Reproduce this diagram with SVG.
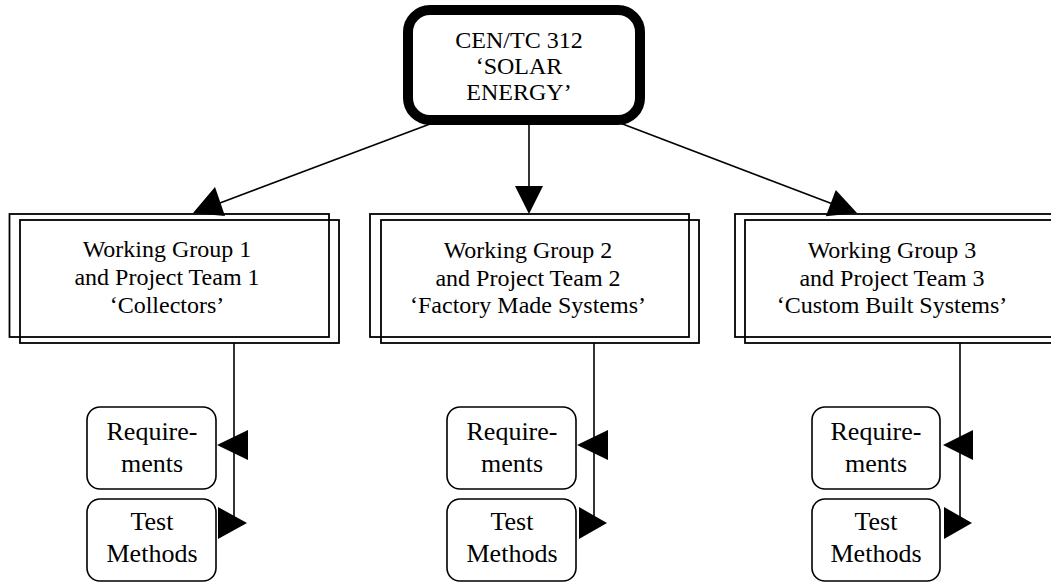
<svg xmlns="http://www.w3.org/2000/svg" width="1051" height="583" viewBox="0 0 1051 583">
<style>
text{font-family:"Liberation Serif","Times New Roman","DejaVu Serif",serif;fill:#000;text-anchor:middle}
.wg{font-size:24px}
.sub{font-size:26px}
.top{font-size:24px}
.box{fill:none;stroke:#000;stroke-width:1.8}
.sb{fill:#fff;stroke:#000;stroke-width:1.6}
.ln{stroke:#000;stroke-width:1.6;fill:none}
.ah{fill:#000;stroke:none}
</style>
<rect width="1051" height="583" fill="#fff"/>
<g id="connectors">
<line class="ln" x1="430" y1="124" x2="212" y2="206"/>
<polygon class="ah" points="193,213 215,187 225,216"/>
<line class="ln" x1="529" y1="125" x2="529" y2="190"/>
<polygon class="ah" points="529,214 515,186 543,186"/>
<line class="ln" x1="620" y1="123" x2="838" y2="206"/>
<polygon class="ah" points="857,213 835.8,190 825.8,216.2"/>
<line class="ln" x1="234" y1="343" x2="234" y2="523"/>
<polygon class="ah" points="217,445 248,430 248,460"/>
<polygon class="ah" points="218,507 247,523 218,539"/>
<line class="ln" x1="594" y1="343" x2="594" y2="523"/>
<polygon class="ah" points="577,445 608,430 608,460"/>
<polygon class="ah" points="579,507 607,523 579,539"/>
<line class="ln" x1="960" y1="343" x2="960" y2="523"/>
<polygon class="ah" points="943,445 973,430 973,460"/>
<polygon class="ah" points="944,507 972,523 944,539"/>
</g>
<g id="top">
<rect x="408" y="10" width="232" height="110" rx="22" fill="#fff" stroke="#000" stroke-width="10"/>
<text class="top" x="519" y="48" font-family="Liberation Serif, serif">CEN/TC 312</text>
<text class="top" x="519" y="74" font-family="Liberation Serif, serif">‘SOLAR</text>
<text class="top" x="519" y="100" font-family="Liberation Serif, serif">ENERGY’</text>
</g>
<g id="wg1">
<rect class="box" x="9.5" y="214" width="319.5" height="123"/>
<rect class="box" x="20" y="220" width="319" height="123"/>
<text class="wg" x="167" y="257">Working Group 1</text>
<text class="wg" x="167" y="285">and Project Team 1</text>
<text class="wg" x="167" y="313">‘Collectors’</text>
</g>
<g id="wg2">
<rect class="box" x="370" y="214" width="319" height="123"/>
<rect class="box" x="381" y="220" width="318" height="123"/>
<text class="wg" x="528" y="258">Working Group 2</text>
<text class="wg" x="528" y="286">and Project Team 2</text>
<text class="wg" x="528" y="313">‘Factory Made Systems’</text>
</g>
<g id="wg3">
<rect class="box" x="735" y="214" width="330" height="123"/>
<rect class="box" x="745" y="220" width="330" height="123"/>
<text class="wg" x="892" y="258">Working Group 3</text>
<text class="wg" x="892" y="286">and Project Team 3</text>
<text class="wg" x="892" y="313">‘Custom Built Systems’</text>
</g>
<g id="req1">
<rect class="sb" x="87" y="407" width="129" height="82" rx="13"/>
<text class="sub" x="152" y="440">Require-</text>
<text class="sub" x="152" y="472">ments</text>
</g>
<g id="test1">
<rect class="sb" x="87" y="499" width="129" height="82" rx="13"/>
<text class="sub" x="152" y="530">Test</text>
<text class="sub" x="152" y="562">Methods</text>
</g>
<g id="req2">
<rect class="sb" x="447" y="407" width="129" height="82" rx="13"/>
<text class="sub" x="512" y="440">Require-</text>
<text class="sub" x="512" y="472">ments</text>
</g>
<g id="test2">
<rect class="sb" x="447" y="499" width="129" height="82" rx="13"/>
<text class="sub" x="512" y="530">Test</text>
<text class="sub" x="512" y="562">Methods</text>
</g>
<g id="req3">
<rect class="sb" x="812" y="407" width="128" height="82" rx="13"/>
<text class="sub" x="876" y="440">Require-</text>
<text class="sub" x="876" y="472">ments</text>
</g>
<g id="test3">
<rect class="sb" x="812" y="499" width="128" height="82" rx="13"/>
<text class="sub" x="876" y="530">Test</text>
<text class="sub" x="876" y="562">Methods</text>
</g>
</svg>
